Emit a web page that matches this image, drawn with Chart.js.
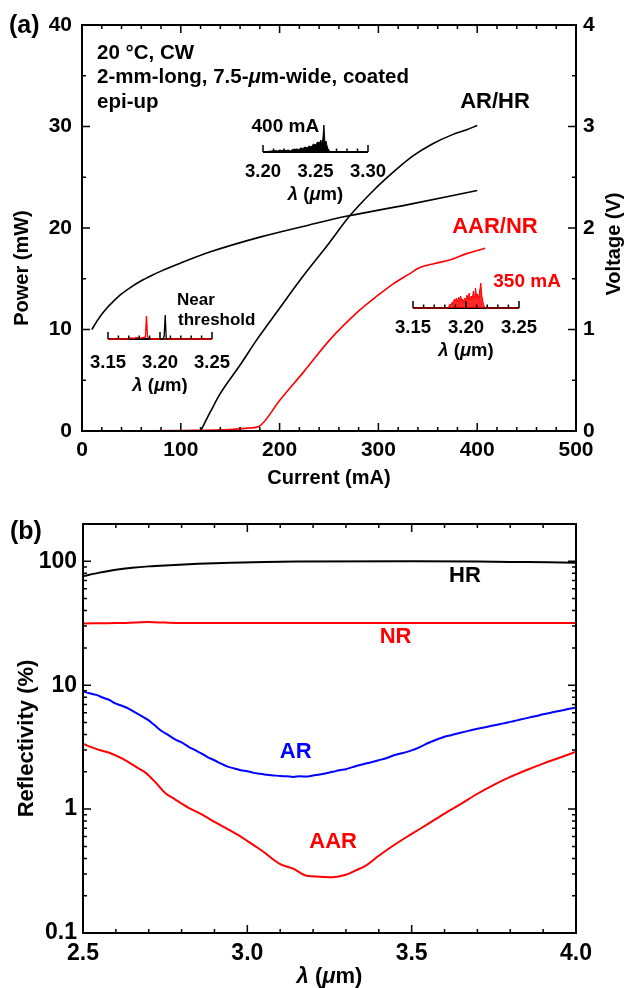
<!DOCTYPE html>
<html>
<head>
<meta charset="utf-8">
<script src="https://cdn.jsdelivr.net/npm/chart.js@4.4.1/dist/chart.umd.min.js"></script>
<style>
html, body { margin: 0; padding: 0; background: #fff; }
#wrap { position: relative; width: 634px; height: 988px; overflow: hidden; background: #fff; }
#wrap canvas { position: absolute; }
</style>
</head>
<body>
<div id="wrap">
  <canvas id="topChart" width="634" height="495" style="left:0;top:0"></canvas>
  <canvas id="botChart" width="634" height="493" style="left:0;top:495px"></canvas>
</div>
<script>
// (a) L-I-V curves
const ivCurrent = [10, 15, 20, 25, 30, 40, 50, 60, 70, 80, 100, 130, 180, 230, 270, 330, 400];
const ivVoltage = [1.00, 1.08, 1.15, 1.21, 1.26, 1.35, 1.42, 1.48, 1.53, 1.575, 1.655, 1.765, 1.91, 2.03, 2.12, 2.23, 2.37];
const arhrCurrent = [120, 130, 140, 160, 177, 200, 221, 250, 271, 295, 315, 335, 355, 375, 390, 400];
const arhrPower = [0, 1.9, 3.7, 6.5, 9.0, 12.1, 14.9, 18.5, 21.2, 23.7, 25.5, 27.1, 28.3, 29.2, 29.7, 30.1];
const aarCurrent = [50, 100, 150, 170, 179, 200, 225, 251, 281, 300, 315, 330, 342, 357, 372, 390, 408];
const aarPower = [0, 0.05, 0.15, 0.3, 0.45, 3.0, 5.9, 9.0, 11.9, 13.4, 14.5, 15.4, 16.1, 16.5, 16.85, 17.5, 18.0];

// inset spectra (amplitude in arbitrary units)
const nearRedWl = [3.150, 3.170, 3.172, 3.175, 3.177, 3.180, 3.182, 3.184, 3.186, 3.187, 3.188, 3.189, 3.190, 3.192, 3.250];
const nearRedAmp = [0, 0, 1, 0.5, 1.5, 0.8, 1.2, 1.5, 2, 23, 2, 1, 0.5, 0, 0];
const nearBlackWl = [3.200, 3.203, 3.204, 3.205, 3.206, 3.208];
const nearBlackAmp = [0, 0, 3, 24, 0, 0];
const s400Wl = [3.200, 3.204, 3.208, 3.212, 3.214, 3.216, 3.218, 3.220, 3.222, 3.224, 3.226, 3.228, 3.230, 3.232, 3.234, 3.236, 3.238, 3.240, 3.242, 3.244, 3.246, 3.248, 3.250, 3.252, 3.254, 3.255, 3.256, 3.257, 3.258, 3.259, 3.260, 3.261, 3.262, 3.264, 3.300];
const s400Amp = [0, 0.5, 1, 1.5, 1, 2, 1.5, 2, 1.5, 2, 1, 2.5, 2, 3, 2.5, 4, 3.5, 5, 4, 6, 5, 8, 7, 10, 9, 12, 8, 13, 27, 9, 11, 6, 3, 0, 0];
const s350Wl = [3.150, 3.183, 3.184, 3.185, 3.186, 3.187, 3.188, 3.189, 3.190, 3.191, 3.192, 3.193, 3.194, 3.195, 3.196, 3.197, 3.198, 3.199, 3.200, 3.201, 3.202, 3.203, 3.204, 3.205, 3.206, 3.207, 3.208, 3.209, 3.210, 3.211, 3.212, 3.213, 3.214, 3.215, 3.216, 3.217, 3.218, 3.250];
const s350Amp = [0, 0, 2, 4, 3, 6, 5, 9, 7, 10, 6, 11, 8, 12, 7, 9, 5, 10, 8, 13, 9, 15, 8, 12, 10, 17, 9, 20, 11, 14, 9, 18, 25, 12, 6, 2, 0, 0];

// (b) reflectivity spectra
const hrWl = [2.50, 2.55, 2.60, 2.65, 2.70, 2.75, 2.85, 2.95, 3.15, 3.50, 3.70, 3.85, 4.00];
const hrR = [76, 81, 85.5, 88.7, 91, 92.7, 95.5, 97.5, 99.5, 100, 99.5, 98.5, 97.5];
const nrWl = [2.50, 2.60, 2.70, 2.75, 2.80, 3.00, 3.50, 4.00];
const nrR = [31.5, 31.7, 32.3, 32.0, 31.8, 31.8, 31.8, 31.8];
const arWl = [2.50, 2.52, 2.54, 2.56, 2.58, 2.60, 2.62, 2.64, 2.66, 2.68, 2.70, 2.72, 2.74, 2.76, 2.78, 2.80, 2.82, 2.84, 2.86, 2.88,
  2.90, 2.92, 2.94, 2.96, 2.98, 3.00, 3.02, 3.04, 3.06, 3.08, 3.10, 3.12, 3.14, 3.16, 3.18, 3.20, 3.22, 3.24, 3.26, 3.28,
  3.30, 3.32, 3.34, 3.36, 3.38, 3.40, 3.42, 3.44, 3.46, 3.48, 3.50, 3.52, 3.54, 3.56, 3.58, 3.60, 3.62, 3.64, 3.66, 3.68,
  3.70, 3.72, 3.74, 3.76, 3.78, 3.80, 3.82, 3.84, 3.86, 3.88, 3.90, 3.92, 3.94, 3.96, 3.98, 4.00];
const arR = [8.9, 8.6, 8.35, 7.95, 7.6, 7.1, 6.8, 6.45, 6.0, 5.6, 5.2, 4.7, 4.25, 3.95, 3.65, 3.45, 3.2, 3.0, 2.82, 2.62,
  2.48, 2.33, 2.2, 2.13, 2.06, 2.02, 1.96, 1.93, 1.89, 1.87, 1.85, 1.84, 1.82, 1.84, 1.83, 1.87, 1.9, 1.95, 2.0, 2.06,
  2.1, 2.18, 2.26, 2.33, 2.4, 2.48, 2.56, 2.68, 2.78, 2.87, 2.98, 3.12, 3.32, 3.5, 3.68, 3.84, 3.95, 4.08, 4.2, 4.33,
  4.45, 4.56, 4.68, 4.8, 4.92, 5.06, 5.2, 5.35, 5.5, 5.65, 5.82, 5.97, 6.13, 6.28, 6.45, 6.6];
const aarWl = [2.50, 2.55, 2.58, 2.62, 2.66, 2.69, 2.72, 2.75, 2.78, 2.82, 2.86, 2.90, 2.94, 2.98, 3.02, 3.05, 3.08, 3.10, 3.14, 3.18, 3.22, 3.26, 3.30, 3.33, 3.36, 3.40, 3.45, 3.50, 3.55, 3.60, 3.65, 3.70, 3.75, 3.80, 3.85, 3.90, 3.95, 4.00];
const aarR = [3.35, 3.0, 2.85, 2.55, 2.2, 1.97, 1.65, 1.35, 1.2, 1.03, 0.91, 0.79, 0.69, 0.6, 0.51, 0.45, 0.39, 0.36, 0.33, 0.29, 0.285, 0.282, 0.295, 0.32, 0.35, 0.42, 0.52, 0.63, 0.76, 0.92, 1.1, 1.33, 1.57, 1.82, 2.07, 2.33, 2.6, 2.9];

const FONT = "'Liberation Sans', Arial, Helvetica, sans-serif";
const RED = '#ff0000', BLUE = '#0000ff';
const wrap = document.getElementById('wrap');

function xy(xs, ys) { return xs.map((v, i) => ({ x: v, y: ys[i] })); }
function steps(a, b, st, dec) {
  const n = Math.round((b - a) / st), out = [];
  for (let i = 0; i <= n; i++) out.push(+(a + i * st).toFixed(dec));
  return out;
}
function setTicks(vals) { return s => { s.ticks = vals.map(v => ({ value: v })); }; }
function bold(size, it) { return (it ? 'italic ' : '') + 'bold ' + size + 'px ' + FONT; }

function text(ctx, s, x, y, size, color, align, rot) {
  ctx.save();
  ctx.font = bold(size);
  ctx.fillStyle = color || '#000';
  ctx.textAlign = align || 'center';
  ctx.textBaseline = 'middle';
  ctx.translate(x, y);
  if (rot) ctx.rotate(rot);
  ctx.fillText(s, 0, 0);
  ctx.restore();
}
function rich(ctx, parts, x, y, size, color, align) {
  ctx.save();
  ctx.fillStyle = color || '#000';
  ctx.textBaseline = 'middle';
  ctx.textAlign = 'left';
  let w = 0;
  parts.forEach(([s, it]) => { ctx.font = bold(size, it); w += ctx.measureText(s).width; });
  let cx = align === 'center' ? x - w / 2 : x;
  parts.forEach(([s, it]) => { ctx.font = bold(size, it); ctx.fillText(s, cx, y); cx += ctx.measureText(s).width; });
  ctx.restore();
}
const LAMBDA = [['λ', true], [' (', false], ['μ', true], ['m)', false]];

function frame(ctx, a) {
  ctx.save();
  ctx.strokeStyle = '#000';
  ctx.lineWidth = 2;
  ctx.strokeRect(a.left, a.top, a.right - a.left, a.bottom - a.top);
  ctx.restore();
}
function marks(ctx, scale, edge, a, big, small) {
  ctx.save();
  ctx.strokeStyle = '#000';
  ctx.lineWidth = 1.5;
  ctx.beginPath();
  scale.ticks.forEach(t => {
    const len = (t.label !== '' && t.label != null) ? big : small;
    const p = scale.getPixelForValue(t.value);
    if (edge === 'bottom') { ctx.moveTo(p, a.bottom); ctx.lineTo(p, a.bottom - len); }
    if (edge === 'top') { ctx.moveTo(p, a.top); ctx.lineTo(p, a.top + len); }
    if (edge === 'left') { ctx.moveTo(a.left, p); ctx.lineTo(a.left + len, p); }
    if (edge === 'right') { ctx.moveTo(a.right, p); ctx.lineTo(a.right - len, p); }
  });
  ctx.stroke();
  ctx.restore();
}

const noGrid = { display: false, drawTicks: false };
const noBorder = { display: false };

// ---------- panel (a) ----------
const panelA = {
  id: 'panelA',
  afterDraw(c) {
    const { ctx, chartArea: a, scales: { x, y, y1 } } = c;
    frame(ctx, a);
    marks(ctx, x, 'bottom', a, 8, 4);
    marks(ctx, x, 'top', a, 8, 4);
    marks(ctx, y, 'left', a, 8, 4);
    marks(ctx, y1, 'right', a, 8, 4);
    const X = v => x.getPixelForValue(v), Y = v => y.getPixelForValue(v);
    text(ctx, '(a)', 9, 26, 25, '#000', 'left');
    text(ctx, 'Power (mW)', 22, 268, 20, '#000', 'center', -Math.PI / 2);
    text(ctx, 'Voltage (V)', 614, 244, 20, '#000', 'center', -Math.PI / 2);
    text(ctx, 'Current (mA)', (a.left + a.right) / 2, 478, 20, '#000', 'center');
    text(ctx, '20 °C, CW', X(15.2), Y(37.24), 20.5, '#000', 'left');
    rich(ctx, [['2-mm-long, 7.5-', false], ['μ', true], ['m-wide, coated', false]], X(15.2), Y(34.88), 20.5, '#000', 'left');
    text(ctx, 'epi-up', X(15.2), Y(32.41), 20.5, '#000', 'left');
    text(ctx, 'AR/HR', X(418), Y(32.44), 22, '#000', 'center');
    text(ctx, 'AAR/NR', X(418), Y(20.1), 22, RED, 'center');
    text(ctx, '400 mA', X(240), Y(29.98), 19, '#000', 'right');
    text(ctx, '350 mA', X(416.3), Y(14.68), 19, RED, 'left');
    text(ctx, 'Near', X(96.2), Y(12.9), 17, '#000', 'left');
    text(ctx, 'threshold', X(97.2), Y(10.94), 17, '#000', 'left');
  }
};

new Chart(document.getElementById('topChart'), {
  type: 'line',
  data: {
    datasets: [
      { data: xy(ivCurrent, ivVoltage), yAxisID: 'y1', borderColor: '#000', borderWidth: 1.6 },
      { data: xy(arhrCurrent, arhrPower), yAxisID: 'y', borderColor: '#000', borderWidth: 1.6 },
      { data: xy(aarCurrent, aarPower), yAxisID: 'y', borderColor: RED, borderWidth: 1.6 }
    ]
  },
  options: {
    responsive: false, animation: false, devicePixelRatio: 1,
    layout: { padding: { top: 25, left: 0, right: 0, bottom: 0 } },
    elements: { point: { radius: 0 }, line: { cubicInterpolationMode: 'monotone', fill: false } },
    plugins: { legend: { display: false }, tooltip: { enabled: false } },
    scales: {
      x: {
        type: 'linear', min: 0, max: 500,
        afterBuildTicks: setTicks(steps(0, 500, 20, 0)),
        afterFit: s => { s.height = 64; },
        grid: noGrid, border: noBorder,
        ticks: { autoSkip: false, maxRotation: 0, minRotation: 0, padding: 7, color: '#000',
          font: { family: FONT, size: 21, weight: 'bold' },
          callback: v => (v % 100 === 0 ? String(v) : '') }
      },
      y: {
        type: 'linear', position: 'left', min: 0, max: 40,
        afterBuildTicks: setTicks(steps(0, 40, 5, 0)),
        afterFit: s => { s.width = 82; },
        grid: noGrid, border: noBorder,
        ticks: { autoSkip: false, padding: 10, color: '#000',
          font: { family: FONT, size: 21, weight: 'bold' },
          callback: v => (v % 10 === 0 ? String(v) : '') }
      },
      y1: {
        type: 'linear', position: 'right', min: 0, max: 4,
        afterBuildTicks: setTicks(steps(0, 4, 0.5, 1)),
        afterFit: s => { s.width = 58; },
        grid: noGrid, border: noBorder,
        ticks: { autoSkip: false, padding: 7, color: '#000',
          font: { family: FONT, size: 21, weight: 'bold' },
          callback: v => (Number.isInteger(v) ? String(v) : '') }
      }
    }
  },
  plugins: [panelA]
});

// ---------- insets ----------
function inset(left, axisY, width, lo, hi, datasets, labelPad, titleGap) {
  const cv = document.createElement('canvas');
  cv.width = width + 60; cv.height = 90;
  cv.style.left = (left - 30) + 'px';
  cv.style.top = (axisY - 35) + 'px';
  wrap.appendChild(cv);
  const axisPlug = {
    id: 'insetAxis',
    beforeDatasetsDraw(c) {
      const { ctx, chartArea: a } = c;
      ctx.save();
      ctx.strokeStyle = '#000'; ctx.lineWidth = 2;
      ctx.beginPath(); ctx.moveTo(a.left, a.bottom); ctx.lineTo(a.right, a.bottom); ctx.stroke();
      ctx.restore();
    },
    afterDraw(c) {
      const { ctx, chartArea: a, scales: { x } } = c;
      marks(ctx, x, 'bottom', a, 7, 3.5);
      rich(ctx, LAMBDA, (a.left + a.right) / 2, a.bottom + titleGap, 18.5, '#000', 'center');
    }
  };
  new Chart(cv, {
    type: 'line',
    data: { datasets },
    options: {
      responsive: false, animation: false, devicePixelRatio: 1,
      layout: { padding: { top: 5, left: 30, right: 30, bottom: 0 } },
      elements: { point: { radius: 0 }, line: { tension: 0 } },
      plugins: { legend: { display: false }, tooltip: { enabled: false } },
      scales: {
        x: {
          type: 'linear', min: lo, max: hi,
          afterBuildTicks: setTicks(steps(lo, hi, 0.01, 2)),
          afterFit: s => { s.height = 55; },
          grid: noGrid, border: noBorder,
          ticks: { autoSkip: false, maxRotation: 0, minRotation: 0, padding: labelPad, color: '#000',
            font: { family: FONT, size: 18.5, weight: 'bold' },
            callback: v => (Math.round(v * 100) % 5 === 0 ? v.toFixed(2) : '') }
        },
        y: { display: false, min: 0, max: 30 }
      }
    },
    plugins: [axisPlug]
  });
}

inset(106.7, 339.3, 106, 3.15, 3.25, [
  { data: xy(nearBlackWl, nearBlackAmp), borderColor: '#000', borderWidth: 1.3, clip: false },
  { data: xy(nearRedWl, nearRedAmp), borderColor: RED, borderWidth: 1.3, clip: false }
], 13, 47);

inset(263.3, 152, 105, 3.20, 3.30, [
  { data: xy(s400Wl, s400Amp), borderColor: '#000', backgroundColor: '#000', borderWidth: 1, fill: 'origin', clip: false }
], 9, 43);

inset(413.3, 307.5, 106.7, 3.15, 3.25, [
  { data: xy(s350Wl, s350Amp), borderColor: RED, backgroundColor: 'rgba(255,0,0,0.85)', borderWidth: 1, fill: 'origin', clip: false }
], 9, 43);

// ---------- panel (b) ----------
const logTicks = [0.1, 1, 10].flatMap(d => [1, 2, 3, 4, 5, 6, 7, 8, 9].map(k => +(k * d).toPrecision(2))).concat([100]);

const panelB = {
  id: 'panelB',
  afterDraw(c) {
    const { ctx, chartArea: a, scales: { x, y } } = c;
    frame(ctx, a);
    marks(ctx, x, 'bottom', a, 8, 4);
    marks(ctx, x, 'top', a, 8, 4);
    marks(ctx, y, 'left', a, 8, 4);
    marks(ctx, y, 'right', a, 8, 4);
    const X = v => x.getPixelForValue(v), Y = v => y.getPixelForValue(v);
    text(ctx, '(b)', 10, 37, 25, '#000', 'left');
    text(ctx, 'Reflectivity (%)', 27, 243.5, 22, '#000', 'center', -Math.PI / 2);
    rich(ctx, LAMBDA, (a.left + a.right) / 2, 482, 22, '#000', 'center');
    text(ctx, 'HR', X(3.662), Y(75.9), 22, '#000', 'center');
    text(ctx, 'NR', X(3.451), Y(24.7), 22, RED, 'center');
    text(ctx, 'AR', X(3.147), Y(2.87), 22, BLUE, 'center');
    text(ctx, 'AAR', X(3.261), Y(0.547), 22, RED, 'center');
  }
};

new Chart(document.getElementById('botChart'), {
  type: 'line',
  data: {
    datasets: [
      { data: xy(hrWl, hrR), borderColor: '#000', borderWidth: 2 },
      { data: xy(nrWl, nrR), borderColor: RED, borderWidth: 2 },
      { data: xy(arWl, arR), borderColor: BLUE, borderWidth: 2 },
      { data: xy(aarWl, aarR), borderColor: RED, borderWidth: 2 }
    ]
  },
  options: {
    responsive: false, animation: false, devicePixelRatio: 1,
    layout: { padding: { top: 29, left: 0, right: 58, bottom: 0 } },
    elements: { point: { radius: 0 }, line: { cubicInterpolationMode: 'monotone', fill: false } },
    plugins: { legend: { display: false }, tooltip: { enabled: false } },
    scales: {
      x: {
        type: 'linear', min: 2.5, max: 4.0,
        afterBuildTicks: setTicks(steps(2.5, 4.0, 0.1, 1)),
        afterFit: s => { s.height = 55; },
        grid: noGrid, border: noBorder,
        ticks: { autoSkip: false, maxRotation: 0, minRotation: 0, padding: 7, color: '#000',
          font: { family: FONT, size: 23, weight: 'bold' },
          callback: v => (Math.round(v * 10) % 5 === 0 ? v.toFixed(1) : '') }
      },
      y: {
        type: 'logarithmic', position: 'left', min: 0.1, max: 200,
        afterBuildTicks: setTicks(logTicks),
        afterFit: s => { s.width = 83; },
        grid: noGrid, border: noBorder,
        ticks: { autoSkip: false, padding: 6, color: '#000',
          font: { family: FONT, size: 23, weight: 'bold' },
          callback: v => {
            const l = Math.log10(v);
            if (Math.abs(l - Math.round(l)) > 1e-6) return '';
            return v < 1 ? '0.1' : String(Math.round(v));
          } }
      }
    }
  },
  plugins: [panelB]
});
</script>
</body>
</html>
